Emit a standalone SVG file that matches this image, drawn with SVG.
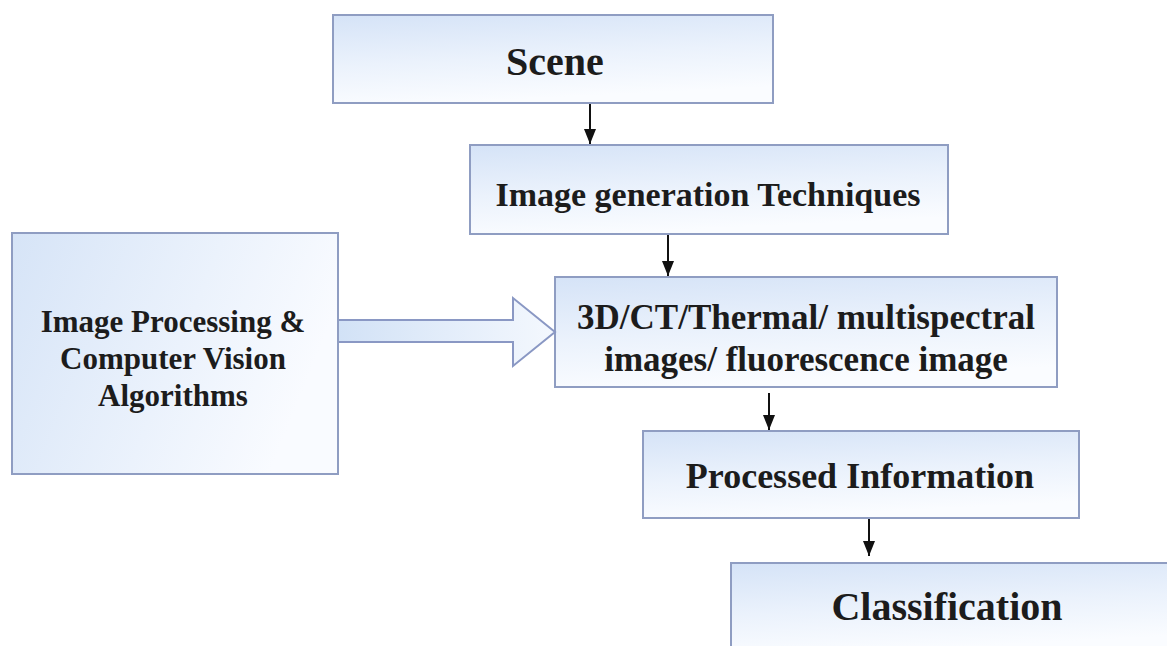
<svg xmlns="http://www.w3.org/2000/svg" width="1167" height="646" viewBox="0 0 1167 646">
<defs>
<linearGradient id="gbox" x1="0" y1="0" x2="0.25" y2="1">
<stop offset="0" stop-color="#d5e3f7"/>
<stop offset="0.55" stop-color="#ebf2fc"/>
<stop offset="1" stop-color="#fafcff"/>
</linearGradient>
<linearGradient id="gleft" x1="0" y1="0" x2="1" y2="0.3">
<stop offset="0" stop-color="#d6e4f7"/>
<stop offset="0.6" stop-color="#ebf2fc"/>
<stop offset="1" stop-color="#f9fbff"/>
</linearGradient>
<linearGradient id="garrow" x1="0" y1="0" x2="1" y2="0">
<stop offset="0" stop-color="#d2e2f6"/>
<stop offset="1" stop-color="#f4f8fe"/>
</linearGradient>
<marker id="ah" markerWidth="15" markerHeight="12" refX="15" refY="6" orient="auto" markerUnits="userSpaceOnUse" viewBox="0 0 15 12">
<path d="M0,0 L15,6 L0,12 Z" fill="#111"/>
</marker>
</defs>
<style>
.box{fill:url(#gbox);stroke:#8f9dc2;stroke-width:2}
.lbox{fill:url(#gleft);stroke:#8f9dc2;stroke-width:2}
.t{font-family:"Liberation Serif","Times New Roman",serif;font-weight:bold;fill:#1c1c1c;text-anchor:middle}
.c{stroke:#111;stroke-width:2;fill:none}
</style>
<rect width="1167" height="646" fill="#ffffff"/>
<g id="scene">
<rect class="box" x="333" y="15" width="440" height="88"/>
<text class="t" x="555" y="75" font-size="40">Scene</text>
</g>
<g id="image-generation">
<rect class="box" x="470" y="145" width="478" height="89"/>
<text class="t" x="708" y="206" font-size="34">Image generation Techniques</text>
</g>
<g id="algorithms">
<rect class="lbox" x="12" y="233" width="326" height="241"/>
<text class="t" x="173" y="332" font-size="31">Image Processing &amp;</text>
<text class="t" x="173" y="369" font-size="31">Computer Vision</text>
<text class="t" x="173" y="406" font-size="31">Algorithms</text>
</g>
<g id="images">
<rect class="box" x="555" y="277" width="502" height="110"/>
<text class="t" x="806" y="329" font-size="35">3D/CT/Thermal/ multispectral</text>
<text class="t" x="806" y="371" font-size="35">images/ fluorescence image</text>
</g>
<g id="processed">
<rect class="box" x="643" y="431" width="436" height="87"/>
<text class="t" x="860" y="488" font-size="36">Processed Information</text>
</g>
<g id="classification">
<rect class="box" x="731" y="563" width="440" height="90"/>
<text class="t" x="947" y="620" font-size="40">Classification</text>
</g>
<g id="connectors">
<line class="c" x1="590" y1="104" x2="590" y2="144" marker-end="url(#ah)"/>
<line class="c" x1="668" y1="235" x2="668" y2="276" marker-end="url(#ah)"/>
<line class="c" x1="769" y1="393" x2="769" y2="430" marker-end="url(#ah)"/>
<line class="c" x1="869" y1="519" x2="869" y2="556" marker-end="url(#ah)"/>
<path d="M339,320 L513,320 L513,298 L555,332 L513,366 L513,342 L339,342" fill="url(#garrow)" stroke="#8a98c4" stroke-width="2" stroke-linejoin="miter"/>
</g>
</svg>
